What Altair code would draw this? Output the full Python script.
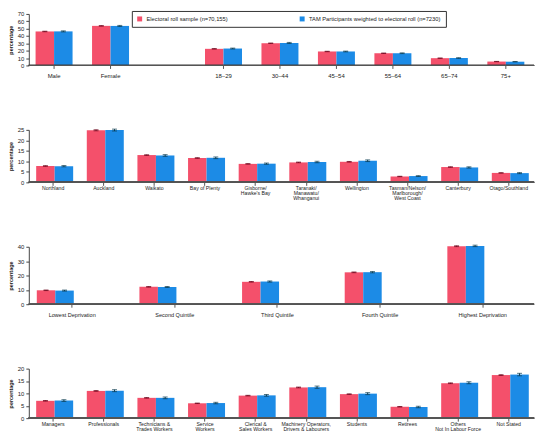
import altair as alt
import pandas as pd

FONT = "Liberation Sans"
SERIES = ["Electoral roll sample (n=70,155)",
          "TAM Participants weighted to electoral roll (n=7230)"]
COLORS = ["#f4506b", "#1c8be6"]
ERR_COLORS = ["#6b0018", "#0b3c4f"]

# Panel 1: sex and age
p1_domain = ["Male", "Female", " ", "18–29", "30–44", "45–54", "55–64", "65–74", "75+"]
p1_cats = ["Male", "Female", "18–29", "30–44", "45–54", "55–64", "65–74", "75+"]
p1_red = [46.2, 53.8, 22.6, 30.2, 19.0, 16.6, 9.9, 5.3]
p1_blue = [46.3, 53.7, 23.0, 30.6, 19.0, 16.6, 10.1, 5.1]
p1_red_err = [0.35, 0.35, 0.3, 0.3, 0.3, 0.3, 0.2, 0.2]
p1_blue_err = [0.7, 0.7, 0.6, 0.7, 0.5, 0.5, 0.4, 0.3]

# Panel 2: region
p2_cats = ["Northland", "Auckland", "Waikato", "Bay of Plenty", "Gisborne/|Hawke's Bay",
           "Taranaki/|Manawatu/|Whanganui", "Wellington",
           "Tasman/Nelson/|Marlborough/|West Coast", "Canterbury", "Otago/Southland"]
p2_red = [7.8, 24.8, 13.0, 11.6, 8.8, 9.5, 9.8, 2.8, 7.3, 4.5]
p2_blue = [7.7, 24.9, 12.8, 11.7, 8.9, 9.7, 10.3, 3.0, 7.1, 4.4]
p2_red_err = [0.15, 0.25, 0.15, 0.15, 0.12, 0.15, 0.15, 0.1, 0.12, 0.1]
p2_blue_err = [0.3, 0.45, 0.4, 0.4, 0.3, 0.35, 0.4, 0.2, 0.3, 0.25]

# Panel 3: deprivation
p3_cats = ["Lowest Deprivation", "Second Quintile", "Third Quintile",
           "Fourth Quintile", "Highest Deprivation"]
p3_red = [9.7, 12.1, 15.6, 22.2, 40.4]
p3_blue = [9.5, 12.0, 15.8, 22.3, 40.6]
p3_red_err = [0.2, 0.2, 0.2, 0.25, 0.3]
p3_blue_err = [0.35, 0.35, 0.4, 0.45, 0.5]

# Panel 4: occupation
p4_cats = ["Managers", "Professionals", "Technicians &|Trades Workers", "Service|Workers",
           "Clerical &|Sales Workers", "Machinery Operators,|Drivers & Labourers",
           "Students", "Retirees", "Others|Not In Labour Force", "Not Stated"]
p4_red = [7.0, 11.0, 8.2, 6.0, 9.1, 12.4, 9.7, 4.6, 14.1, 17.4]
p4_blue = [7.1, 11.1, 8.2, 6.1, 9.2, 12.5, 9.9, 4.5, 14.3, 17.6]
p4_red_err = [0.12, 0.15, 0.12, 0.1, 0.12, 0.15, 0.12, 0.1, 0.15, 0.15]
p4_blue_err = [0.35, 0.4, 0.35, 0.3, 0.35, 0.45, 0.4, 0.3, 0.4, 0.5]


def make_df(cats, red, blue, red_err, blue_err):
    rows = []
    for c, r, b, re, be in zip(cats, red, blue, red_err, blue_err):
        rows.append({"cat": c, "series": SERIES[0], "val": r, "lo": r - re, "hi": r + re})
        rows.append({"cat": c, "series": SERIES[1], "val": b, "lo": b - be, "hi": b + be})
    return pd.DataFrame(rows)


W = 510


def panel(df, domain, ymax, yvals, x_range, height, pad_inner,
          label_size, line_h, label_pad, legend=None):
    xaxis = alt.Axis(title=None, domain=False, labelAngle=0,
                     labelExpr="split(datum.label, '|')",
                     labelFontSize=label_size, labelLineHeight=line_h,
                     labelPadding=label_pad, tickSize=3, tickColor="#555",
                     tickOpacity={"condition": {"test": "datum.value == ' '", "value": 0}, "value": 1},
                     labelColor="#222", labelFont=FONT, labelBaseline="top",
                     labelOverlap=False)
    yaxis = alt.Axis(title="percentage", values=yvals, tickCount=len(yvals), grid=False,
                     labelFontSize=6, labelColor="#222", labelFont=FONT,
                     labelOverlap=False,
                     tickSize=3, tickColor="#444", domainColor="#444",
                     labelPadding=2, titleFontSize=5.5, titleFont=FONT,
                     titleFontWeight="bold", titleColor="#222")
    x = alt.X("cat:N", sort=domain,
              scale=alt.Scale(domain=domain, range=x_range,
                              paddingInner=pad_inner, paddingOuter=pad_inner / 2),
              axis=xaxis)
    yscale = alt.Scale(domain=[0, ymax], nice=False, zero=True)
    xo = alt.XOffset("series:N", sort=SERIES, scale=alt.Scale(domain=SERIES))
    col = alt.Color("series:N", sort=SERIES,
                    scale=alt.Scale(domain=SERIES, range=COLORS),
                    legend=legend)
    base = alt.Chart(df)
    bars = base.mark_bar().encode(
        x=x, y=alt.Y("val:Q", scale=yscale, axis=yaxis), xOffset=xo, color=col)
    errs = base.mark_rule(strokeWidth=1).encode(
        x=x, xOffset=xo, y=alt.Y("lo:Q", scale=yscale, axis=yaxis), y2="hi:Q",
        stroke=alt.Stroke("series:N", scale=alt.Scale(domain=SERIES, range=ERR_COLORS), legend=None))
    caps_hi = base.mark_tick(size=5, thickness=1).encode(
        x=x, xOffset=xo, y=alt.Y("hi:Q", scale=yscale, axis=yaxis),
        fill=alt.Fill("series:N", scale=alt.Scale(domain=SERIES, range=ERR_COLORS), legend=None))
    caps_lo = base.mark_tick(size=5, thickness=1).encode(
        x=x, xOffset=xo, y=alt.Y("lo:Q", scale=yscale, axis=yaxis),
        fill=alt.Fill("series:N", scale=alt.Scale(domain=SERIES, range=ERR_COLORS), legend=None))
    baseline = base.mark_rule(color="#555", strokeWidth=1).encode(
        y=alt.datum(0, scale=yscale, axis=yaxis))
    return alt.layer(bars, errs, caps_lo, caps_hi, baseline).properties(width=W, height=height)


leg = alt.Legend(orient="none", legendX=104, legendY=-3, direction="horizontal",
                 columns=2, title=None, symbolType="square", symbolSize=25,
                 symbolStrokeWidth=0, labelFontSize=5.8, labelFont=FONT,
                 labelColor="#222", strokeColor="#333", fillColor="white",
                 padding=5, columnPadding=72, labelOffset=4, cornerRadius=0)

df1 = make_df(p1_cats, p1_red, p1_blue, p1_red_err, p1_blue_err)
df2 = make_df(p2_cats, p2_red, p2_blue, p2_red_err, p2_blue_err)
df3 = make_df(p3_cats, p3_red, p3_blue, p3_red_err, p3_blue_err)
df4 = make_df(p4_cats, p4_red, p4_blue, p4_red_err, p4_blue_err)

c1 = panel(df1, p1_domain, 70, [0, 10, 20, 30, 40, 50, 60, 70], [-3, 510], 52,
           0.345, 6, 7, 4, legend=leg)
c2 = panel(df2, p2_cats, 25, [0, 5, 10, 15, 20, 25], [-1, 510], 53,
           0.33, 5.2, 5.2, 0)
c3 = panel(df3, p3_cats, 40, [0, 10, 20, 30, 40], [-8, 510], 58,
           0.31, 5.6, 6, 5)
c4 = panel(df4, p4_cats, 20, [0, 5, 10, 15, 20], [-1, 510], 50,
           0.33, 5.2, 5.4, 0)

chart = alt.vconcat(c1, c2, c3, c4, spacing=65, bounds="flush").resolve_scale(
    color="independent", stroke="independent", fill="independent"
).resolve_legend(color="independent").properties(
    padding=0, background="white"
).configure_view(stroke=None)

chart.save("out.html", embed_options={"renderer": "svg", "actions": False})
